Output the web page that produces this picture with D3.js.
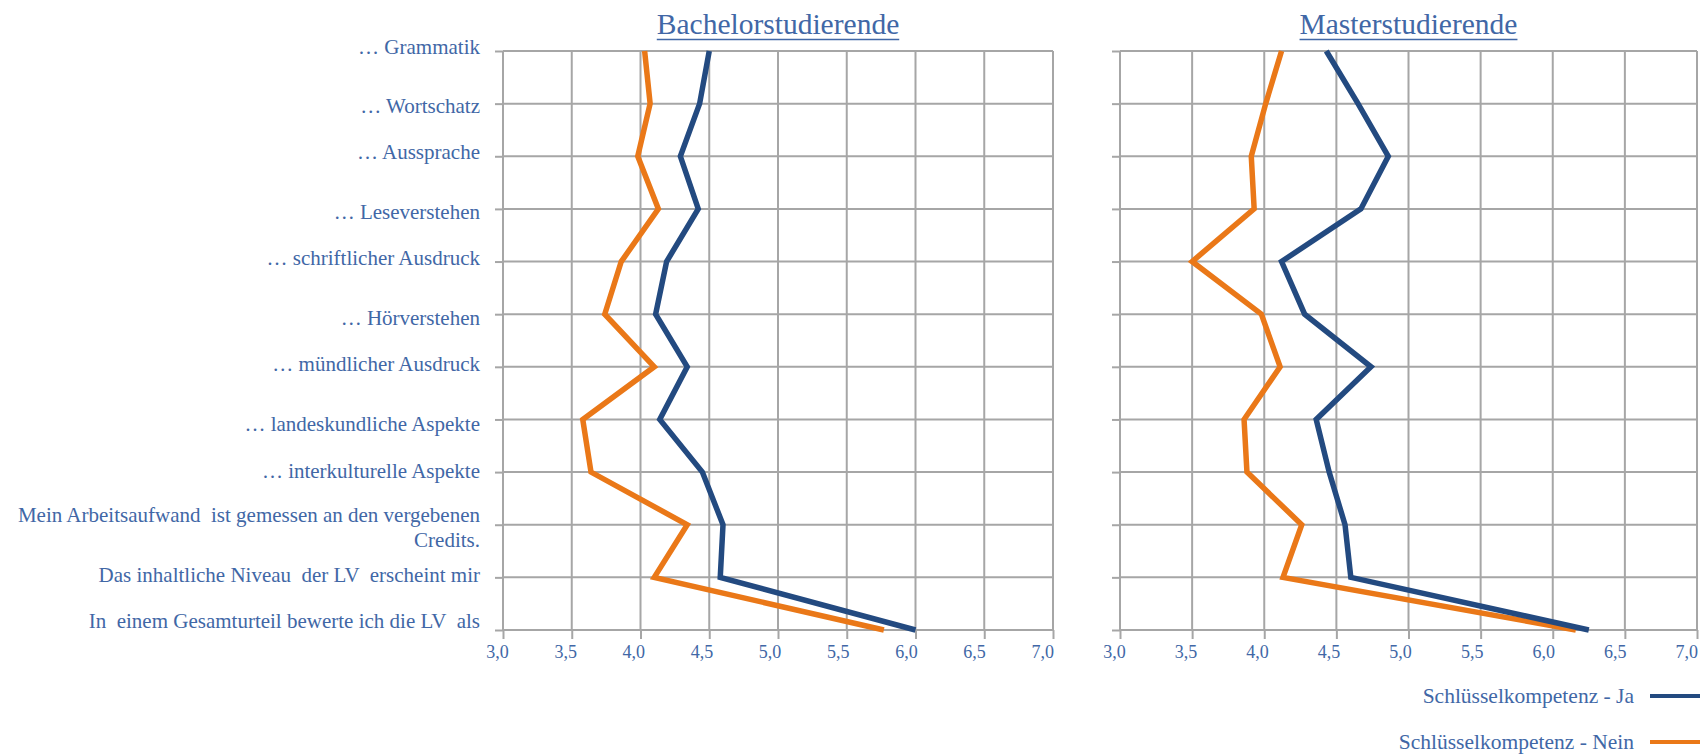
<!DOCTYPE html>
<html>
<head>
<meta charset="utf-8">
<script src="https://cdn.jsdelivr.net/npm/d3@7"></script>
<style>
  html, body { margin: 0; padding: 0; background: #ffffff; }
  svg { display: block; }
  text { font-family: "Liberation Serif", "Times New Roman", serif; white-space: pre; }
</style>
</head>
<body>
<svg id="chart" width="1700" height="754"></svg>
<script>
// ---------- data ----------
const categories = [
  "… Grammatik",
  "… Wortschatz",
  "… Aussprache",
  "… Leseverstehen",
  "… schriftlicher Ausdruck",
  "… Hörverstehen",
  "… mündlicher Ausdruck",
  "… landeskundliche Aspekte",
  "… interkulturelle Aspekte",
  "Mein Arbeitsaufwand  ist gemessen an den vergebenen\nCredits.",
  "Das inhaltliche Niveau  der LV  erscheint mir",
  "In  einem Gesamturteil bewerte ich die LV  als"
];
const panelTitles = ["Bachelorstudierende", "Masterstudierende"];
const seriesNames = ["Schlüsselkompetenz - Ja", "Schlüsselkompetenz - Nein"];
const bachelorJa   = [4.50, 4.43, 4.29, 4.42, 4.19, 4.11, 4.34, 4.14, 4.45, 4.60, 4.58, 6.00];
const bachelorNein = [4.03, 4.07, 3.98, 4.13, 3.86, 3.74, 4.10, 3.58, 3.64, 4.34, 4.10, 5.77];
const masterJa     = [4.43, 4.65, 4.86, 4.67, 4.12, 4.28, 4.74, 4.36, 4.45, 4.56, 4.60, 6.25];
const masterNein   = [4.12, 4.01, 3.91, 3.93, 3.50, 3.98, 4.11, 3.86, 3.88, 4.26, 4.13, 6.16];
const xTicks = [3.0, 3.5, 4.0, 4.5, 5.0, 5.5, 6.0, 6.5, 7.0];
const xDomain = [3, 7];

// ---------- style / layout ----------
const textColor = "#4167a6";
const gridColor = "#a6a6a6";
const colJa = "#234a80";
const colNein = "#ea7818";
const labelNudge = [-4, 3, -4, 3, -3, 4, -3, 5, -1, 3, -2, -9]; // small vertical label shifts (px)

const svg = d3.select("#chart");
const plotTop = 51, plotBottom = 630;

const panels = [
  { title: panelTitles[0], x0: 503, x1: 1053, ja: bachelorJa, nein: bachelorNein, labels: true },
  { title: panelTitles[1], x0: 1120, x1: 1697, ja: masterJa, nein: masterNein, labels: false }
];

const y = d3.scalePoint().domain(categories).range([plotTop, plotBottom]).padding(0);
const fmt = v => d3.format(".1f")(v).replace(".", ",");

panels.forEach(p => {
  const x = d3.scaleLinear().domain(xDomain).range([p.x0, p.x1]);
  const g = svg.append("g");

  // vertical gridlines (value axis)
  g.append("g").selectAll("line").data(xTicks).join("line")
    .attr("x1", d => x(d)).attr("x2", d => x(d))
    .attr("y1", plotTop).attr("y2", plotBottom)
    .attr("stroke", gridColor).attr("stroke-width", 2);

  // horizontal gridlines (categories)
  g.append("g").selectAll("line").data(categories).join("line")
    .attr("x1", p.x0).attr("x2", p.x1)
    .attr("y1", d => y(d)).attr("y2", d => y(d))
    .attr("stroke", gridColor).attr("stroke-width", 2);

  // bottom axis: outward ticks + labels
  const xa = g.append("g").attr("transform", `translate(0,${plotBottom})`)
    .call(d3.axisBottom(x).tickValues(xTicks).tickFormat(fmt).tickSize(9).tickPadding(6));
  xa.select(".domain").remove();
  xa.selectAll(".tick line").attr("stroke", gridColor).attr("stroke-width", 2);
  xa.selectAll(".tick text").attr("fill", textColor)
    .style("font-family", '"Liberation Serif", serif').style("font-size", "18px")
    .attr("dx", d => -6 - (d - 3) * 1.2);

  // left axis: outward ticks
  const ya = g.append("g").attr("transform", `translate(${p.x0},0)`)
    .call(d3.axisLeft(y).tickSize(8).tickPadding(15).tickFormat(""));
  ya.select(".domain").remove();
  ya.selectAll(".tick line").attr("stroke", gridColor).attr("stroke-width", 2);

  if (p.labels) {
    const lg = g.append("g");
    categories.forEach((c, i) => {
      const lines = c.split("\n");
      const t = lg.append("text")
        .attr("x", 480).attr("text-anchor", "end")
        .attr("fill", textColor).style("font-size", "21px");
      const cy = y(c) + labelNudge[i];
      if (lines.length === 1) {
        t.attr("y", cy).attr("dy", "0.32em").text(c);
      } else {
        lines.forEach((ln, k) => {
          t.append("tspan").attr("x", 480)
            .attr("y", cy - 6 + k * 25).text(ln);
        });
      }
    });
  }

  // lines
  const line = d3.line().x(d => x(d.v)).y(d => y(d.c));
  [[p.nein, colNein], [p.ja, colJa]].forEach(([vals, col]) => {
    g.append("path")
      .datum(categories.map((c, i) => ({ c, v: vals[i] })))
      .attr("d", line)
      .attr("fill", "none").attr("stroke", col)
      .attr("stroke-width", 5.5).attr("stroke-linejoin", "miter").attr("stroke-miterlimit", 4);
  });

  // title
  const cx = (p.x0 + p.x1) / 2;
  const tt = g.append("text").attr("x", cx).attr("y", 34)
    .attr("text-anchor", "middle").attr("fill", textColor)
    .style("font-size", "29.5px").text(p.title);
  const bb = tt.node().getBBox();
  g.append("line").attr("x1", bb.x).attr("x2", bb.x + bb.width)
    .attr("y1", 39.5).attr("y2", 39.5).attr("stroke", textColor).attr("stroke-width", 1.5);
});

// legend
const legend = svg.append("g");
[[seriesNames[0], colJa, 696], [seriesNames[1], colNein, 742]].forEach(([name, col, ly]) => {
  legend.append("text").attr("x", 1634).attr("y", ly + 7)
    .attr("text-anchor", "end").attr("fill", textColor)
    .style("font-size", "21.5px").text(name);
  legend.append("line").attr("x1", 1650).attr("x2", 1710)
    .attr("y1", ly).attr("y2", ly).attr("stroke", col).attr("stroke-width", 4);
});
</script>
</body>
</html>
